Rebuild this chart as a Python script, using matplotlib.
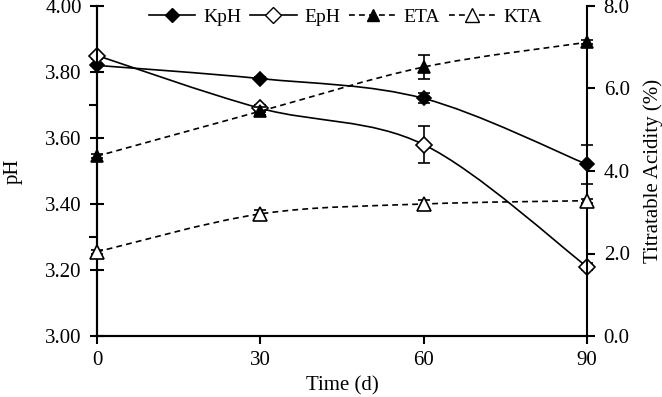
import numpy as np
import matplotlib
matplotlib.use("Agg")
import matplotlib.pyplot as plt
from matplotlib.path import Path
from matplotlib.patches import PathPatch
from matplotlib.lines import Line2D
from matplotlib.ticker import MultipleLocator, FixedLocator, FormatStrFormatter

days = [0, 30, 60, 90]
kph = [3.82, 3.78, 3.72, 3.52]
kph_err = [0.02, 0.005, 0.015, 0.06]
eph = [3.85, 3.69, 3.58, 3.21]
eph_err = [0.005, 0.01, 0.056, 0.01]
eta = [4.36, 5.45, 6.52, 7.12]
eta_err = [0.05, 0.1, 0.30, 0.05]
kta = [2.04, 2.96, 3.20, 3.28]
kta_err = [0.05, 0.1, 0.1, 0.05]

plt.rcParams['font.family'] = ['Liberation Serif', 'DejaVu Serif']
FS = 15

fig = plt.figure(figsize=(6.62, 3.97), dpi=100)
ax = fig.add_axes([97/662, 1-336/397, (587-97)/662, (336-6)/397])
ax2 = ax.twinx()


def smooth_path(x, y):
    x = np.asarray(x, float)
    y = np.asarray(y, float)
    P = np.column_stack([x, y])
    n = len(P)
    verts = [P[0]]
    codes = [Path.MOVETO]
    for i in range(n - 1):
        p0 = P[i - 1] if i > 0 else P[i]
        p3 = P[i + 2] if i + 2 < n else P[i + 1]
        c1 = P[i] + (P[i + 1] - p0) / 6
        c2 = P[i + 1] - (p3 - P[i]) / 6
        verts += [c1, c2, P[i + 1]]
        codes += [Path.CURVE4] * 3
    return Path(verts, codes)


DASH = (0, (3.5, 2.5))


def draw(a, y, err, marker, fc, ls, ms):
    a.add_patch(PathPatch(smooth_path(days, y), fill=False, ec='black',
                          lw=1.2, ls=ls, zorder=2))
    a.errorbar(days, y, yerr=err, fmt='none', ecolor='black', elinewidth=1.2,
               capsize=4, capthick=1.2, zorder=3, clip_on=False)
    a.plot(days, y, ls='none', marker=marker, mfc=fc, mec='black', ms=ms,
           mew=1.2, zorder=4, clip_on=False)


draw(ax, kph, kph_err, 'D', 'black', '-', 7)
draw(ax, eph, eph_err, 'D', 'white', '-', 8)
draw(ax2, eta, eta_err, '^', 'black', DASH, 9)
draw(ax2, kta, kta_err, '^', 'white', DASH, 10)

ax.set_xlim(0, 90)
ax.set_ylim(3.0, 4.0)
ax2.set_ylim(0, 8)
ax.set_xticks(days)
ax.yaxis.set_major_locator(MultipleLocator(0.2))
ax.yaxis.set_minor_locator(FixedLocator([3.3, 3.7]))
ax.yaxis.set_major_formatter(FormatStrFormatter('%.2f'))
ax2.yaxis.set_major_locator(MultipleLocator(2.0))
ax2.yaxis.set_major_formatter(FormatStrFormatter('%.1f'))

for a in (ax, ax2):
    a.spines['top'].set_visible(False)
    for s in a.spines.values():
        s.set_linewidth(1.5)
ax.spines['right'].set_visible(False)
ax.tick_params(axis='x', which='major', direction='out', length=6, width=1.5,
               labelsize=FS, pad=5)
ax.tick_params(axis='y', which='major', direction='inout', length=10, width=1.5,
               labelsize=FS, pad=6)
ax.tick_params(axis='y', which='minor', direction='out', length=6, width=1.5)
ax2.tick_params(axis='y', which='major', direction='out', length=6, width=1.5,
                labelsize=FS, pad=6)

ax.set_xlabel('Time (d)', fontsize=FS, labelpad=4)
ax.set_ylabel('pH', fontsize=FS, labelpad=16)
ax2.set_ylabel('Titratable Acidity (%)', fontsize=FS, labelpad=10)

handles = [
    Line2D([], [], color='black', lw=1.2, marker='D', mfc='black', mec='black', ms=7),
    Line2D([], [], color='black', lw=1.2, marker='D', mfc='white', mec='black', ms=8),
    Line2D([], [], color='black', lw=1.2, ls=DASH, marker='^', mfc='black', mec='black', ms=9),
    Line2D([], [], color='black', lw=1.2, ls=DASH, marker='^', mfc='white', mec='black', ms=10),
]
labels = ['KpH', 'EpH', 'ETA', 'KTA']
leg = ax2.legend(handles, labels, loc='center', bbox_to_anchor=(0.507, 1 - 11/330),
                 ncol=4, frameon=False, handlelength=2.4, handletextpad=0.4,
                 columnspacing=0.45, fontsize=14, borderpad=0, borderaxespad=0)

fig.savefig('out.png', dpi=100)
